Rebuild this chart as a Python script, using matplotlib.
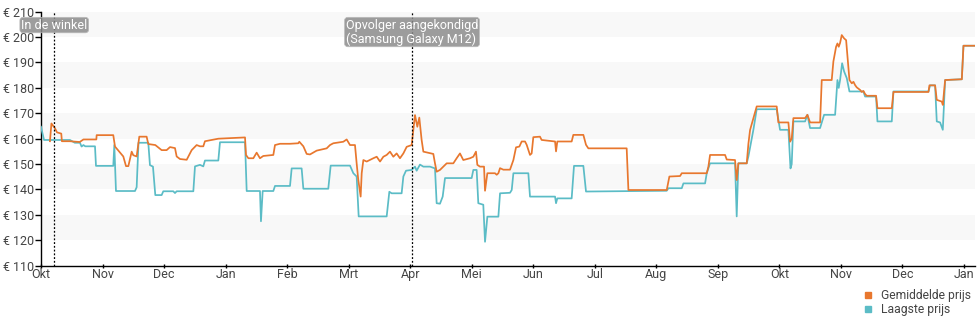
import matplotlib
matplotlib.use("Agg")
import matplotlib.pyplot as plt
from matplotlib.lines import Line2D

plt.rcParams['font.family'] = ['Roboto', 'DejaVu Sans']

# x = maanden sinds begin okt (0 = Okt, 15 = Jan)
months = ['Okt', 'Nov', 'Dec', 'Jan', 'Feb', 'Mrt', 'Apr', 'Mei', 'Jun', 'Jul',
          'Aug', 'Sep', 'Okt', 'Nov', 'Dec', 'Jan']
yticks = [110, 120, 130, 140, 150, 160, 170, 180, 190, 200, 210]

gem_x = [0.146, 0.17, 0.20, 0.23, 0.26, 0.33, 0.34, 0.47, 0.63, 0.69, 0.90, 0.905, 1.175, 1.203,
         1.338, 1.382, 1.42, 1.474, 1.50, 1.555, 1.598, 1.717, 1.744, 1.858, 1.961, 2.042, 2.097,
         2.178, 2.205, 2.259, 2.368, 2.449, 2.53, 2.584, 2.638, 2.665, 2.882, 3.126, 3.316, 3.332,
         3.37, 3.451, 3.505, 3.559, 3.613, 3.776, 3.803, 3.884, 4.047, 4.182, 4.198, 4.264, 4.318,
         4.372, 4.48, 4.643, 4.697, 4.751, 4.913, 4.968, 5.022, 5.103, 5.13, 5.157, 5.195, 5.212,
         5.239, 5.293, 5.401, 5.456, 5.51, 5.564, 5.618, 5.672, 5.726, 5.78, 5.834, 5.889, 5.943,
         6.024, 6.051, 6.078, 6.116, 6.148, 6.186, 6.214, 6.376, 6.403, 6.43, 6.484, 6.593, 6.701,
         6.755, 6.809, 6.863, 6.972, 7.026, 7.069, 7.091, 7.134, 7.20, 7.216, 7.254, 7.378, 7.406,
         7.433, 7.46, 7.514, 7.622, 7.677, 7.72, 7.774, 7.812, 7.866, 7.893, 7.947, 7.974, 8.001,
         8.109, 8.136, 8.354, 8.37, 8.391, 8.624, 8.651, 8.814, 8.857, 8.895, 9.518, 9.546, 10.169,
         10.212, 10.386, 10.413, 10.819, 10.846, 10.873, 11.117, 11.144, 11.279, 11.306, 11.333,
         11.469, 11.496, 11.523, 11.577, 11.631, 11.956, 11.983, 12.146, 12.173, 12.20, 12.227,
         12.417, 12.455, 12.498, 12.661, 12.688, 12.85, 12.877, 12.921, 12.943, 12.964, 12.986,
         13.013, 13.051, 13.084, 13.106, 13.138, 13.176, 13.203, 13.23, 13.257, 13.311, 13.338,
         13.365, 13.392, 13.419, 13.571, 13.593, 13.826, 13.853, 14.422, 14.438, 14.53, 14.557,
         14.639, 14.655, 14.693, 14.964, 14.991, 15.197]
gem_y = [159, 166, 165, 164, 162.5, 162, 159, 159, 158.7, 159.7, 159.7, 161.4, 161.4, 156.9,
         153, 149.2, 149.2, 154.9, 153.5, 153, 160.8, 160.8, 157.9, 157.5, 155.5, 155.5, 156.7,
         156.3, 153, 152, 151.7, 155.5, 157.5, 157, 157, 159, 160, 160.3, 160.5, 153.6,
         152.3, 152.3, 154.5, 152.3, 153.2, 153.6, 157.5, 158, 158, 158.2, 158.8, 157, 154,
         153.8, 155.3, 156.2, 157.5, 158.2, 158.8, 159.7, 157.5, 157.5, 150.3, 143.7, 137.2, 146.4,
         151.6, 151, 152.3, 152.9, 151, 152.9, 153.6, 154.9, 152.9, 154.2, 152.3, 154.2, 156.8,
         157.5, 163.4, 169.3, 164.7, 168.3, 159.5, 154.9, 154, 150.3, 147, 147.7, 150.3, 150.3,
         152.3, 154.2, 151.6, 152.3, 152.9, 154.9, 149.7, 149, 149, 139.5, 146.4, 146.4, 145.8,
         146.4, 148.4, 147.8, 147.8, 151.6, 156.6, 156.9, 158.9, 158.9, 157.6, 153.6, 154.2, 160.6,
         160.8, 159.5, 158.9, 155, 158.9, 158.9, 161.5, 161.5, 157.6, 156.2, 156.2, 139.8, 139.8,
         145.1, 145.3, 146.4, 146.4, 149, 153.6, 153.6, 151.8, 151.6, 143.7, 150.3,
         150.3, 158, 163.4, 168.1, 172.7, 172.7, 166.4, 166.4, 158.8, 160, 168.1,
         168.1, 169.4, 166.4, 166.4, 183.1, 183.1, 190.4, 196.2, 197.5, 196.2, 197.7,
         200.8, 199.5, 198.8, 192.6, 183.1, 181.8, 182.4, 181.1, 180.2, 179.2, 178.4,
         178.8, 177.6, 176.9, 176.9, 172, 172, 178.4, 178.4, 181, 181, 175.3,
         174.6, 173.3, 183.1, 183.4, 196.6, 196.6]

laag_x = [0, 0.05, 0.471, 0.55, 0.634, 0.66, 0.69, 0.72, 0.878, 0.894, 1.175, 1.192, 1.219,
          1.528, 1.555, 1.585, 1.744, 1.771, 1.82, 1.858, 1.961, 1.988, 2.15, 2.178, 2.205, 2.476,
          2.503, 2.584, 2.638, 2.665, 2.882, 2.909, 3.316, 3.343, 3.559, 3.575, 3.603, 3.776, 3.803,
          4.047, 4.074, 4.236, 4.264, 4.669, 4.708, 5.022, 5.076, 5.13, 5.163, 5.618, 5.661, 5.699,
          5.861, 5.889, 5.932, 6.024, 6.078, 6.105, 6.159, 6.214, 6.322, 6.403, 6.43, 6.484, 6.528,
          6.566, 6.999, 7.026, 7.08, 7.107, 7.188, 7.216, 7.254, 7.433, 7.46, 7.622, 7.65, 7.677,
          7.92, 7.947, 8.354, 8.37, 8.391, 8.624, 8.662, 8.814, 8.857, 10.169, 10.196, 10.413,
          10.44, 10.792, 10.819, 10.873, 11.279, 11.306, 11.333, 11.469, 11.496, 11.55, 11.577,
          11.604, 11.631, 11.956, 12.01, 12.146, 12.18, 12.20, 12.227, 12.417, 12.455, 12.498,
          12.661, 12.726, 12.905, 12.943, 12.964, 12.986, 13.019, 13.051, 13.095, 13.138, 13.365,
          13.392, 13.571, 13.593, 13.826, 13.853, 14.422, 14.449, 14.53, 14.557, 14.611, 14.655,
          14.693, 14.964, 14.991, 15.197]
laag_y = [164.7, 159.5, 159.5, 158.4, 158.4, 156.9, 157.5, 157, 157, 149.3, 149.3, 157.5, 139.4,
          139.4, 140.9, 158.4, 158.4, 149.6, 149, 137.8, 137.8, 139.3, 139.3, 138.6, 139.3, 139.3,
          149.1, 149.7, 149.1, 151.4, 151.4, 158.6, 158.6, 139.4, 139.4, 127.5, 139.4, 139.4, 141.4,
          141.4, 148.3, 148.3, 140.3, 140.3, 149.4, 149.4, 146.4, 145.1, 129.4, 129.4, 139.1, 138.5,
          138.5, 145.1, 147.4, 147.7, 149, 147.4, 149.8, 149, 149, 148.3, 134.6, 134.4, 137.2,
          144.5, 144.5, 147.7, 147.7, 134.6, 134, 119.4, 129.3, 129.3, 138.5, 138.7, 139.8, 146.4,
          146.4, 137.2, 137.2, 134.6, 136.5, 136.5, 149.3, 149.3, 139.2, 139.5, 140.5, 140.5,
          142.4, 142.4, 146.4, 150.3, 150.3, 129.4, 150.3, 150.3, 153, 160, 163.5,
          167.5, 171.6, 171.6, 163.5, 163.5, 148.3, 150, 166.8, 166.8, 169.4, 164.2,
          164.2, 169.4, 169.4, 183.1, 180, 183.1, 189.7, 186.5, 183.8, 178.6, 178.6,
          176.6, 176.6, 166.8, 166.8, 178.6, 178.6, 181, 181, 166.8, 166.4, 163.5,
          183.1, 183.4, 196.6, 196.6]

events = [0.216, 6.03]
event_labels = ['In de winkel', 'Opvolger aangekondigd\n(Samsung Galaxy M12)']

orange = '#e8772e'
teal = '#5bbcc6'
txt = '#444444'

fig = plt.figure(figsize=(9.8, 3.25), dpi=100)
ax = fig.add_axes([0.0418, 0.1825, 0.9532, 0.7815])
ax.set_xlim(0, 15.18)
ax.set_ylim(110, 210)

for lo in range(120, 210, 20):
    ax.axhspan(lo, lo + 10, color='#f8f8f8', zorder=0, lw=0)

ax.plot(laag_x, laag_y, color=teal, lw=1.25, zorder=3)
ax.plot(gem_x, gem_y, color=orange, lw=1.25, zorder=4)

for ex, lab in zip(events, event_labels):
    ax.axvline(ex, color='black', lw=0.9, ls=(0, (1.5, 1.5)), zorder=5)
    ax.text(ex, 207.3, lab, ha='center', va='top', ma='left', color='white', fontsize=9, zorder=6,
            linespacing=1.05,
            bbox=dict(boxstyle='round,pad=0.1,rounding_size=0.25', fc=(0.55, 0.55, 0.55, 0.85),
                      ec='#bbbbbb', lw=0.5))

ax.set_xticks(range(len(months)))
ax.set_xticklabels(months)
ax.set_yticks(yticks)
ax.set_yticklabels(['€ %d' % v for v in yticks])
ax.tick_params(axis='y', colors='black', labelcolor=txt, labelsize=9, length=4, width=1, pad=1)
ax.tick_params(axis='x', colors='black', labelcolor=txt, labelsize=9, length=3, width=1, pad=0,
               direction='inout')
for s in ['top', 'right']:
    ax.spines[s].set_visible(False)
for s in ['left', 'bottom']:
    ax.spines[s].set_linewidth(1)

handles = [Line2D([], [], marker='s', ls='none', color=orange, markersize=5),
           Line2D([], [], marker='s', ls='none', color=teal, markersize=5)]
fig.legend(handles, ['Gemiddelde prijs', 'Laagste prijs'], loc='lower right',
           bbox_to_anchor=(1.0, 0.0), frameon=False, fontsize=8.7, handletextpad=0.05,
           labelspacing=0.05, borderaxespad=0.35, labelcolor=txt)

fig.savefig('out.png', dpi=100)
